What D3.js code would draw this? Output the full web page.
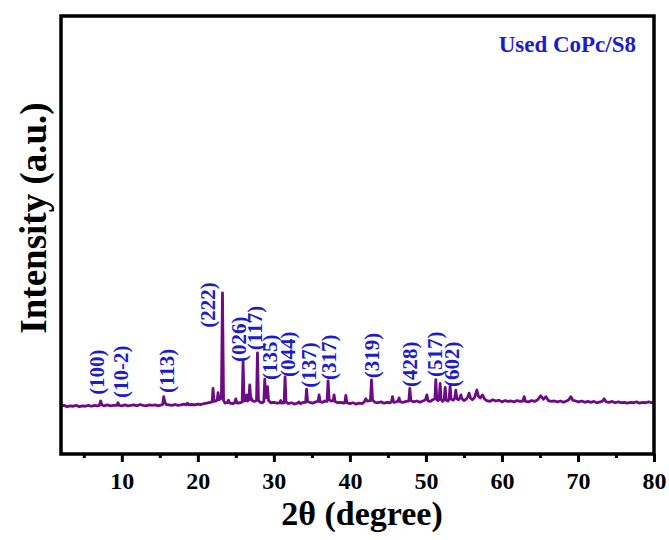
<!DOCTYPE html>
<html>
<head>
<meta charset="utf-8">
<script src="https://cdn.jsdelivr.net/npm/d3@7"></script>
<style>
  body { margin: 0; background: #fff; }
  text { font-family: "Liberation Serif", "Times New Roman", serif; font-weight: bold; }
</style>
</head>
<body>
<div id="chart-area"></div>
<script>
// XRD pattern, [2theta, intensity]
var pattern = [
  [2.0,109],[2.4,111],[2.8,108],[3.2,110],[3.6,109],[4.0,111],[4.4,108],[4.8,110],[5.2,109],[5.6,111],
  [6.0,109],[6.4,111],[6.8,110],[7.05,111],[7.22,121],[7.38,112],[7.7,110],[8.1,112],[8.5,110],[8.9,111],
  [9.35,111],[9.5,117],[9.65,111],[10.0,110],[10.4,112],[10.8,110],[11.2,111],[11.6,112],[12.0,110],[12.4,113],
  [12.8,111],[13.2,110],[13.6,112],[14.0,111],[14.4,112],[14.8,110],[15.2,112],[15.38,113],[15.51,131],[15.66,118],
  [15.85,113],[16.2,112],[16.6,111],[17.0,113],[17.4,111],[17.8,112],[18.2,114],[18.45,112],[18.63,116],[18.8,112],
  [19.2,113],[19.6,112],[20.0,114],[20.4,113],[20.8,115],[21.2,116],[21.6,118],[21.88,119],[22.0,150],[22.12,120],
  [22.4,121],[22.55,124],[22.66,140],[22.78,124],[23.1,127],[23.24,368],[23.38,122],[23.6,116],[23.85,117],[24.03,123],
  [24.2,116],[24.6,115],[24.85,117],[24.99,126],[25.15,116],[25.6,117],[25.83,119],[25.95,211],[26.08,121],[26.3,122],
  [26.43,135],[26.56,121],[26.7,124],[26.83,158],[26.96,124],[27.1,126],[27.2,121],[27.45,120],[27.72,122],[27.84,231],
  [27.97,122],[28.2,118],[28.5,117],[28.68,120],[28.8,171],[28.92,128],[29.05,130],[29.16,154],[29.3,122],[29.6,117],
  [30.0,118],[30.4,116],[30.78,117],[30.9,122],[31.02,116],[31.35,117],[31.47,176],[31.6,119],[31.9,115],[32.3,117],
  [32.7,114],[33.1,116],[33.3,119],[33.5,115],[33.9,118],[34.18,118],[34.3,148],[34.43,120],[34.7,118],[35.1,116],
  [35.5,119],[35.8,120],[35.95,135],[36.1,119],[36.4,118],[36.7,121],[37.0,120],[37.13,167],[37.27,124],[37.5,121],
  [37.8,122],[37.92,135],[38.05,120],[38.4,117],[38.8,118],[39.2,116],[39.34,118],[39.46,134],[39.6,117],[40.0,115],
  [40.4,117],[40.8,114],[41.2,116],[41.6,115],[41.9,119],[42.09,126],[42.3,121],[42.7,122],[42.84,169],[42.98,123],
  [43.3,118],[43.7,117],[44.1,119],[44.5,116],[44.9,118],[45.3,117],[45.48,120],[45.6,131],[45.75,118],[46.1,119],
  [46.35,121],[46.47,128],[46.6,119],[47.0,118],[47.4,120],[47.75,121],[47.88,150],[48.02,122],[48.4,119],[48.8,121],
  [49.2,118],[49.6,121],[49.95,124],[50.12,135],[50.3,121],[50.6,120],[50.9,124],[51.18,126],[51.3,170],[51.43,124],
  [51.6,122],[51.75,125],[51.87,161],[52.0,124],[52.2,120],[52.4,124],[52.53,152],[52.66,123],[52.9,121],[53.05,126],
  [53.18,155],[53.32,125],[53.6,123],[53.8,128],[53.93,146],[54.07,126],[54.3,124],[54.45,128],[54.6,135],[54.75,126],
  [55.0,122],[55.3,125],[55.5,130],[55.68,139],[55.85,128],[56.1,124],[56.4,129],[56.7,146],[56.9,132],[57.15,128],
  [57.45,135],[57.7,126],[58.0,122],[58.4,120],[58.8,124],[59.2,121],[59.6,123],[60.0,119],[60.4,122],[60.8,120],
  [61.2,121],[61.6,119],[62.0,122],[62.4,120],[62.75,121],[62.92,131],[63.1,120],[63.5,119],[63.9,122],[64.3,120],
  [64.7,124],[65.12,133],[65.45,125],[65.78,131],[66.1,122],[66.5,120],[66.9,121],[67.3,119],[67.7,121],[68.1,118],
  [68.5,121],[68.8,124],[69.07,131],[69.3,123],[69.7,121],[70.1,119],[70.5,121],[70.9,118],[71.3,120],[71.7,118],
  [72.1,120],[72.5,117],[72.9,119],[73.2,120],[73.45,126],[73.7,119],[74.1,118],[74.5,120],[74.9,117],[75.3,119],
  [75.7,117],[76.1,118],[76.5,116],[76.9,118],[77.3,117],[77.7,119],[78.1,116],[78.5,118],[78.9,117],[79.3,119],
  [79.7,117],[80.0,118]
];

// Miller index labels, where they sit (2theta, intensity at the label's lower end)
var peakLabels = ["(100)", "(10-2)", "(113)", "(222)", "(026)", "(117)", "(135)",
                  "(044)", "(137)", "(317)", "(319)", "(428)", "(517)", "(602)"];
var labelTheta = [6.79, 9.86, 15.91, 21.37, 25.47, 27.49, 29.46, 31.83, 34.59, 37.22, 42.88, 47.88, 51.17, 53.41];
var labelIntensity = [135, 128, 139, 288, 210, 237, 169, 176, 151, 169, 173, 153, 176, 153];

var xTicks = [10, 20, 30, 40, 50, 60, 70, 80];
var xMinorTicks = [5, 15, 25, 35, 45, 55, 65, 75];

var outerWidth = 669;
var outerHeight = 540;
var margin = { left: 61, right: 15, top: 16, bottom: 86 };
var width = outerWidth - margin.left - margin.right;
var height = outerHeight - margin.top - margin.bottom;

var svg = d3.select("#chart-area")
  .append("svg")
  .attr("width", outerWidth)
  .attr("height", outerHeight);

var g = svg.append("g")
  .attr("transform", "translate(" + margin.left + "," + margin.top + ")");

var x = d3.scaleLinear().domain([2, 80]).range([0, width]);
var y = d3.scaleLinear().domain([0, 1000]).range([height, 0]);

g.append("clipPath").attr("id", "clip")
  .append("rect").attr("width", width).attr("height", height);

// pattern line
var line = d3.line()
  .x(function(d) { return x(d[0]); })
  .y(function(d) { return y(d[1]); });

g.append("path")
  .datum(pattern)
  .attr("clip-path", "url(#clip)")
  .attr("fill", "none")
  .attr("stroke", "#6e0a86")
  .attr("stroke-width", 2.8)
  .attr("stroke-linejoin", "round")
  .attr("d", line);

// peak labels
g.selectAll(".hkl")
  .data(peakLabels)
  .enter()
  .append("text")
  .attr("class", "hkl")
  .attr("transform", function(d, i) {
    return "translate(" + x(labelTheta[i]) + "," + y(labelIntensity[i]) + ") rotate(-90)";
  })
  .attr("dominant-baseline", "central")
  .attr("font-size", "21px")
  .attr("fill", "#1c1ccc")
  .text(function(d) { return d; });

// bottom axis
var xAxis = d3.axisBottom(x)
  .tickValues(xTicks)
  .tickSize(8)
  .tickPadding(10)
  .tickFormat(d3.format("d"));

var ax = g.append("g")
  .attr("transform", "translate(0," + height + ")")
  .call(xAxis);
ax.select(".domain").remove();
ax.selectAll("line").attr("stroke", "#000").attr("stroke-width", 3);
ax.selectAll("text").attr("font-size", "24px").attr("fill", "#000");

var axMinor = g.append("g")
  .attr("transform", "translate(0," + height + ")")
  .call(d3.axisBottom(x).tickValues(xMinorTicks).tickSize(4).tickFormat(""));
axMinor.select(".domain").remove();
axMinor.selectAll("line").attr("stroke", "#000").attr("stroke-width", 3);

// frame
g.append("rect")
  .attr("width", width)
  .attr("height", height)
  .attr("fill", "none")
  .attr("stroke", "#000")
  .attr("stroke-width", 3.5);

// legend text
g.append("text")
  .attr("x", width - 18)
  .attr("y", 36)
  .attr("text-anchor", "end")
  .attr("font-size", "23px")
  .attr("fill", "#1c1ccc")
  .text("Used CoPc/S8");

// axis titles
svg.append("text")
  .attr("x", 362)
  .attr("y", 525)
  .attr("text-anchor", "middle")
  .attr("font-size", "34px")
  .text("2θ (degree)");

svg.append("text")
  .attr("transform", "translate(46,218) rotate(-90)")
  .attr("text-anchor", "middle")
  .attr("font-size", "37px")
  .text("Intensity (a.u.)");
</script>
</body>
</html>
